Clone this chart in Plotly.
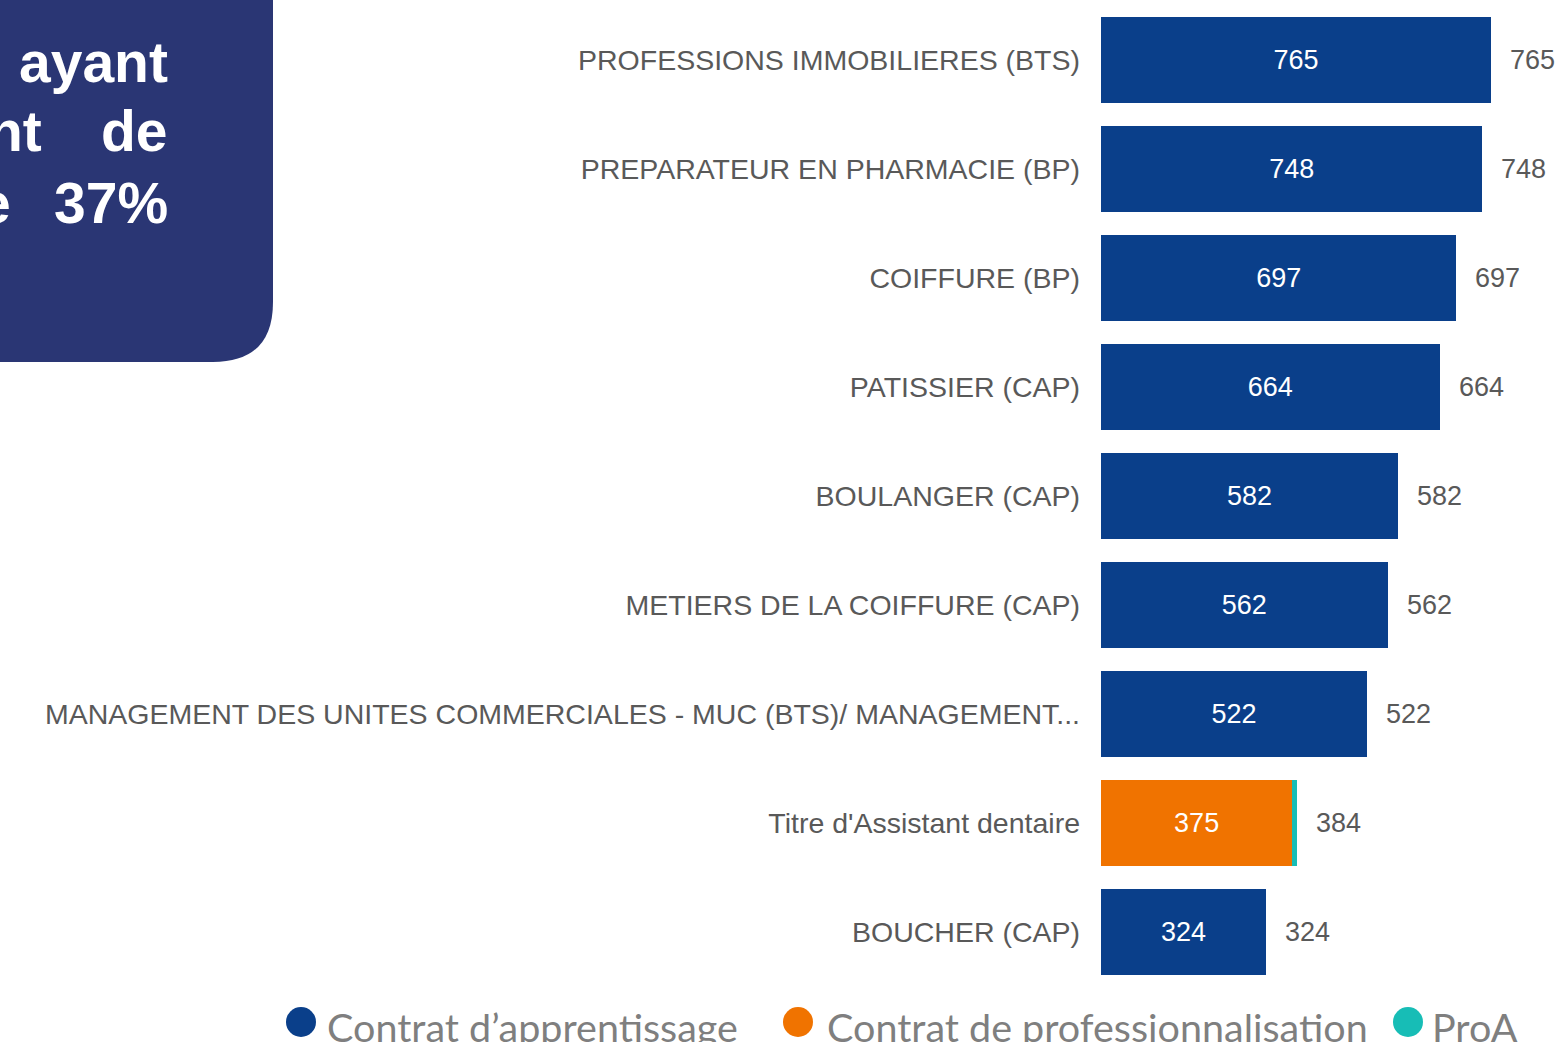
import plotly.graph_objects as go

W, H = 1560, 1042

categories = [
    "PROFESSIONS IMMOBILIERES (BTS)",
    "PREPARATEUR EN PHARMACIE (BP)",
    "COIFFURE (BP)",
    "PATISSIER (CAP)",
    "BOULANGER (CAP)",
    "METIERS DE LA COIFFURE (CAP)",
    "MANAGEMENT DES UNITES COMMERCIALES - MUC (BTS)/ MANAGEMENT...",
    "Titre d'Assistant dentaire",
    "BOUCHER (CAP)",
]
apprentissage = [765, 748, 697, 664, 582, 562, 522, 0, 324]
professionnalisation = [0, 0, 0, 0, 0, 0, 0, 375, 0]
proa = [0, 0, 0, 0, 0, 0, 0, 9, 0]
totals = [a + b + c for a, b, c in zip(apprentissage, professionnalisation, proa)]

series = [
    ("Contrat d\u2019apprentissage", apprentissage, "#0a3f8a"),
    ("Contrat de professionnalisation", professionnalisation, "#f07300"),
    ("ProA", proa, "#17bdb6"),
]

label_grey = "#595959"


def px(x):
    return x / W


def py(y):
    return 1 - y / H


fig = go.Figure()
for name, vals, color in series:
    fig.add_trace(go.Bar(
        y=categories, x=vals, orientation="h", name=name,
        marker=dict(color=color, line=dict(width=0)),
        text=[str(v) if v >= 50 else "" for v in vals],
        textposition="inside", insidetextanchor="middle",
        textfont=dict(family="Liberation Sans, Arial", size=27, color="white"),
        showlegend=False,
    ))

# totals to the right of the bars
for cat, tot in zip(categories, totals):
    fig.add_annotation(
        x=tot, y=cat, text=str(tot), showarrow=False,
        xanchor="left", xshift=17,
        font=dict(family="Liberation Sans, Arial", size=27, color=label_grey),
    )

# navy box in the top-left corner
r = 60
x1, y1 = 273, 362
path = (f"M {px(-10)},{py(-10)} L {px(x1)},{py(-10)} L {px(x1)},{py(y1 - r)} "
        f"Q {px(x1)},{py(y1)} {px(x1 - r)},{py(y1)} L {px(-10)},{py(y1)} Z")
fig.add_shape(type="path", path=path, xref="paper", yref="paper",
              fillcolor="#2a3674", line=dict(width=0), layer="below")

box_words = [("ayant", 170, 62), ("nt", 44, 131), ("de", 170, 131),
             ("e", 13, 203), ("37%", 170, 203)]
for word, xr, yc in box_words:
    fig.add_annotation(
        x=px(xr), y=py(yc), xref="paper", yref="paper", text=f"<b>{word}</b>",
        showarrow=False, xanchor="right", yanchor="middle",
        font=dict(family="Liberation Sans, Arial", size=57, color="white"),
    )

# legend drawn by hand (large circles)
legend_items = [(301, 325), (798, 825), (1408, 1430)]
for (cx, tx), (name, _, color) in zip(legend_items, series):
    fig.add_shape(type="circle", xref="paper", yref="paper",
                  x0=px(cx - 15), x1=px(cx + 15), y0=py(1037), y1=py(1007),
                  fillcolor=color, line=dict(width=0))
    fig.add_annotation(
        x=px(tx), y=py(1026), xref="paper", yref="paper", text=name,
        showarrow=False, xanchor="left", yanchor="middle",
        font=dict(family="Lato, Liberation Sans", size=39.5, color="#7f7f7f"),
    )

fig.update_layout(
    width=W, height=H,
    barmode="stack", bargap=0.21,
    margin=dict(l=0, r=0, t=0, b=0),
    paper_bgcolor="white", plot_bgcolor="white",
    xaxis=dict(domain=[1101 / W, 1], range=[0, 900], visible=False, fixedrange=True),
    yaxis=dict(
        domain=[py(986.5), py(5.5)], range=[8.5, -0.5], type="category",
        showgrid=False, zeroline=False, showline=False, ticks="",
        ticklabelstandoff=20, automargin=False,
        tickfont=dict(family="Liberation Sans, Arial", size=28.5, color=label_grey),
    ),
)

fig.write_html("out.html", config={"displayModeBar": False},
               post_script="document.body.style.margin='0px';")
